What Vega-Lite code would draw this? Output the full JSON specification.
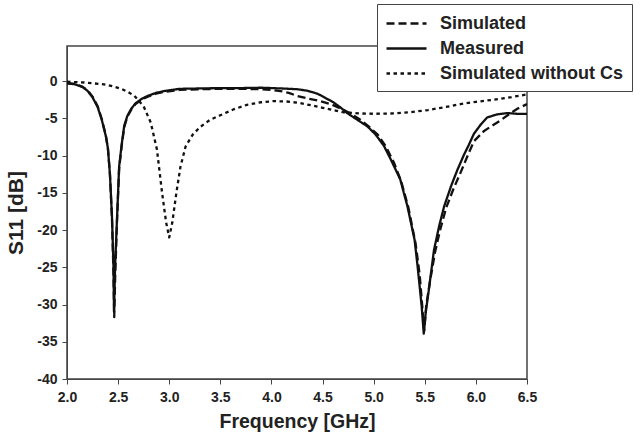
{
  "$schema": "https://vega.github.io/schema/vega-lite/v6.json",
  "width": 460,
  "height": 333,
  "autosize": {"type": "none"},
  "padding": {"left": 67, "top": 46, "right": 117, "bottom": 60},
  "background": "white",
  "config": {
    "font": "Liberation Sans",
    "view": {"stroke": "#444", "strokeWidth": 1.5},
    "axis": {
      "grid": false,
      "domainColor": "#444",
      "tickColor": "#444",
      "tickSize": 5,
      "labelFont": "Liberation Sans",
      "labelFontWeight": "bold",
      "labelFontSize": 14,
      "labelColor": "#222",
      "titleFont": "Liberation Sans",
      "titleFontWeight": "bold",
      "titleColor": "#222"
    }
  },
  "data": {
    "values": [
      {"f": 2.00, "s": -0.3, "series": "Measured"},
      {"f": 2.08, "s": -0.45, "series": "Measured"},
      {"f": 2.15, "s": -0.8, "series": "Measured"},
      {"f": 2.20, "s": -1.3, "series": "Measured"},
      {"f": 2.25, "s": -2.2, "series": "Measured"},
      {"f": 2.30, "s": -3.5, "series": "Measured"},
      {"f": 2.34, "s": -5.2, "series": "Measured"},
      {"f": 2.38, "s": -7.4, "series": "Measured"},
      {"f": 2.40, "s": -9.0, "series": "Measured"},
      {"f": 2.42, "s": -12.5, "series": "Measured"},
      {"f": 2.44, "s": -18.2, "series": "Measured"},
      {"f": 2.455, "s": -25, "series": "Measured"},
      {"f": 2.46, "s": -31.0, "series": "Measured"},
      {"f": 2.47, "s": -25, "series": "Measured"},
      {"f": 2.49, "s": -18.2, "series": "Measured"},
      {"f": 2.51, "s": -11.5, "series": "Measured"},
      {"f": 2.535, "s": -8.5, "series": "Measured"},
      {"f": 2.56, "s": -6.0, "series": "Measured"},
      {"f": 2.59, "s": -4.7, "series": "Measured"},
      {"f": 2.63, "s": -3.7, "series": "Measured"},
      {"f": 2.67, "s": -3.0, "series": "Measured"},
      {"f": 2.73, "s": -2.4, "series": "Measured"},
      {"f": 2.79, "s": -2.0, "series": "Measured"},
      {"f": 2.87, "s": -1.6, "series": "Measured"},
      {"f": 2.95, "s": -1.35, "series": "Measured"},
      {"f": 3.10, "s": -1.05, "series": "Measured"},
      {"f": 3.30, "s": -1.0, "series": "Measured"},
      {"f": 3.50, "s": -0.95, "series": "Measured"},
      {"f": 3.70, "s": -0.95, "series": "Measured"},
      {"f": 3.90, "s": -0.9, "series": "Measured"},
      {"f": 4.10, "s": -1.0, "series": "Measured"},
      {"f": 4.25, "s": -1.1, "series": "Measured"},
      {"f": 4.35, "s": -1.3, "series": "Measured"},
      {"f": 4.45, "s": -1.7, "series": "Measured"},
      {"f": 4.52, "s": -2.2, "series": "Measured"},
      {"f": 4.61, "s": -2.9, "series": "Measured"},
      {"f": 4.68, "s": -3.6, "series": "Measured"},
      {"f": 4.74, "s": -4.3, "series": "Measured"},
      {"f": 4.84, "s": -5.2, "series": "Measured"},
      {"f": 4.94, "s": -6.1, "series": "Measured"},
      {"f": 5.02, "s": -7.2, "series": "Measured"},
      {"f": 5.10, "s": -8.7, "series": "Measured"},
      {"f": 5.17, "s": -10.6, "series": "Measured"},
      {"f": 5.26, "s": -13.2, "series": "Measured"},
      {"f": 5.33, "s": -16.8, "series": "Measured"},
      {"f": 5.40, "s": -21.3, "series": "Measured"},
      {"f": 5.43, "s": -24.9, "series": "Measured"},
      {"f": 5.47, "s": -30.3, "series": "Measured"},
      {"f": 5.49, "s": -33.9, "series": "Measured"},
      {"f": 5.51, "s": -31, "series": "Measured"},
      {"f": 5.54, "s": -28, "series": "Measured"},
      {"f": 5.59, "s": -22.7, "series": "Measured"},
      {"f": 5.64, "s": -19.5, "series": "Measured"},
      {"f": 5.69, "s": -16.8, "series": "Measured"},
      {"f": 5.76, "s": -14.0, "series": "Measured"},
      {"f": 5.82, "s": -11.9, "series": "Measured"},
      {"f": 5.88, "s": -10.0, "series": "Measured"},
      {"f": 5.93, "s": -8.6, "series": "Measured"},
      {"f": 5.98, "s": -7.1, "series": "Measured"},
      {"f": 6.05, "s": -5.8, "series": "Measured"},
      {"f": 6.11, "s": -4.9, "series": "Measured"},
      {"f": 6.20, "s": -4.5, "series": "Measured"},
      {"f": 6.31, "s": -4.3, "series": "Measured"},
      {"f": 6.40, "s": -4.4, "series": "Measured"},
      {"f": 6.50, "s": -4.4, "series": "Measured"},

      {"f": 2.00, "s": -0.3, "series": "Simulated"},
      {"f": 2.08, "s": -0.4, "series": "Simulated"},
      {"f": 2.15, "s": -0.75, "series": "Simulated"},
      {"f": 2.20, "s": -1.2, "series": "Simulated"},
      {"f": 2.25, "s": -2.1, "series": "Simulated"},
      {"f": 2.30, "s": -3.4, "series": "Simulated"},
      {"f": 2.34, "s": -5.1, "series": "Simulated"},
      {"f": 2.38, "s": -7.3, "series": "Simulated"},
      {"f": 2.40, "s": -9.0, "series": "Simulated"},
      {"f": 2.42, "s": -12.5, "series": "Simulated"},
      {"f": 2.44, "s": -18.5, "series": "Simulated"},
      {"f": 2.455, "s": -26, "series": "Simulated"},
      {"f": 2.462, "s": -31.7, "series": "Simulated"},
      {"f": 2.472, "s": -26, "series": "Simulated"},
      {"f": 2.49, "s": -18.5, "series": "Simulated"},
      {"f": 2.51, "s": -11.8, "series": "Simulated"},
      {"f": 2.535, "s": -8.7, "series": "Simulated"},
      {"f": 2.56, "s": -6.2, "series": "Simulated"},
      {"f": 2.59, "s": -4.8, "series": "Simulated"},
      {"f": 2.63, "s": -3.8, "series": "Simulated"},
      {"f": 2.67, "s": -3.1, "series": "Simulated"},
      {"f": 2.73, "s": -2.5, "series": "Simulated"},
      {"f": 2.79, "s": -2.1, "series": "Simulated"},
      {"f": 2.87, "s": -1.7, "series": "Simulated"},
      {"f": 2.95, "s": -1.45, "series": "Simulated"},
      {"f": 3.10, "s": -1.2, "series": "Simulated"},
      {"f": 3.30, "s": -1.1, "series": "Simulated"},
      {"f": 3.50, "s": -1.05, "series": "Simulated"},
      {"f": 3.70, "s": -1.05, "series": "Simulated"},
      {"f": 3.90, "s": -1.1, "series": "Simulated"},
      {"f": 4.00, "s": -1.2, "series": "Simulated"},
      {"f": 4.09, "s": -1.35, "series": "Simulated"},
      {"f": 4.17, "s": -1.6, "series": "Simulated"},
      {"f": 4.25, "s": -2.0, "series": "Simulated"},
      {"f": 4.37, "s": -2.4, "series": "Simulated"},
      {"f": 4.48, "s": -2.7, "series": "Simulated"},
      {"f": 4.58, "s": -3.1, "series": "Simulated"},
      {"f": 4.68, "s": -3.7, "series": "Simulated"},
      {"f": 4.78, "s": -4.4, "series": "Simulated"},
      {"f": 4.87, "s": -5.2, "series": "Simulated"},
      {"f": 4.96, "s": -6.2, "series": "Simulated"},
      {"f": 5.04, "s": -7.2, "series": "Simulated"},
      {"f": 5.12, "s": -8.8, "series": "Simulated"},
      {"f": 5.20, "s": -11.0, "series": "Simulated"},
      {"f": 5.27, "s": -13.5, "series": "Simulated"},
      {"f": 5.34, "s": -17.0, "series": "Simulated"},
      {"f": 5.41, "s": -21.8, "series": "Simulated"},
      {"f": 5.45, "s": -26, "series": "Simulated"},
      {"f": 5.48, "s": -31, "series": "Simulated"},
      {"f": 5.495, "s": -33.5, "series": "Simulated"},
      {"f": 5.515, "s": -30, "series": "Simulated"},
      {"f": 5.55, "s": -27, "series": "Simulated"},
      {"f": 5.60, "s": -23, "series": "Simulated"},
      {"f": 5.65, "s": -20, "series": "Simulated"},
      {"f": 5.71, "s": -17, "series": "Simulated"},
      {"f": 5.78, "s": -14.5, "series": "Simulated"},
      {"f": 5.85, "s": -12.3, "series": "Simulated"},
      {"f": 5.92, "s": -10.0, "series": "Simulated"},
      {"f": 5.98, "s": -8.1, "series": "Simulated"},
      {"f": 6.08, "s": -6.7, "series": "Simulated"},
      {"f": 6.17, "s": -5.9, "series": "Simulated"},
      {"f": 6.25, "s": -5.2, "series": "Simulated"},
      {"f": 6.33, "s": -4.4, "series": "Simulated"},
      {"f": 6.41, "s": -3.7, "series": "Simulated"},
      {"f": 6.50, "s": -3.1, "series": "Simulated"},

      {"f": 2.00, "s": -0.1, "series": "Simulated without Cs"},
      {"f": 2.17, "s": -0.2, "series": "Simulated without Cs"},
      {"f": 2.36, "s": -0.45, "series": "Simulated without Cs"},
      {"f": 2.45, "s": -0.7, "series": "Simulated without Cs"},
      {"f": 2.54, "s": -1.1, "series": "Simulated without Cs"},
      {"f": 2.60, "s": -1.5, "series": "Simulated without Cs"},
      {"f": 2.66, "s": -2.0, "series": "Simulated without Cs"},
      {"f": 2.75, "s": -3.4, "series": "Simulated without Cs"},
      {"f": 2.82, "s": -5.6, "series": "Simulated without Cs"},
      {"f": 2.88, "s": -9.2, "series": "Simulated without Cs"},
      {"f": 2.93, "s": -15.0, "series": "Simulated without Cs"},
      {"f": 2.97, "s": -19.0, "series": "Simulated without Cs"},
      {"f": 3.00, "s": -21.0, "series": "Simulated without Cs"},
      {"f": 3.03, "s": -19.0, "series": "Simulated without Cs"},
      {"f": 3.07, "s": -15.0, "series": "Simulated without Cs"},
      {"f": 3.11, "s": -11.5, "series": "Simulated without Cs"},
      {"f": 3.16, "s": -8.8, "series": "Simulated without Cs"},
      {"f": 3.23, "s": -7.2, "series": "Simulated without Cs"},
      {"f": 3.30, "s": -6.2, "series": "Simulated without Cs"},
      {"f": 3.40, "s": -5.2, "series": "Simulated without Cs"},
      {"f": 3.50, "s": -4.6, "series": "Simulated without Cs"},
      {"f": 3.63, "s": -3.8, "series": "Simulated without Cs"},
      {"f": 3.76, "s": -3.2, "series": "Simulated without Cs"},
      {"f": 3.90, "s": -2.85, "series": "Simulated without Cs"},
      {"f": 4.02, "s": -2.7, "series": "Simulated without Cs"},
      {"f": 4.15, "s": -2.75, "series": "Simulated without Cs"},
      {"f": 4.28, "s": -2.95, "series": "Simulated without Cs"},
      {"f": 4.40, "s": -3.3, "series": "Simulated without Cs"},
      {"f": 4.50, "s": -3.6, "series": "Simulated without Cs"},
      {"f": 4.60, "s": -3.9, "series": "Simulated without Cs"},
      {"f": 4.71, "s": -4.2, "series": "Simulated without Cs"},
      {"f": 4.85, "s": -4.35, "series": "Simulated without Cs"},
      {"f": 5.00, "s": -4.4, "series": "Simulated without Cs"},
      {"f": 5.20, "s": -4.35, "series": "Simulated without Cs"},
      {"f": 5.35, "s": -4.2, "series": "Simulated without Cs"},
      {"f": 5.53, "s": -3.9, "series": "Simulated without Cs"},
      {"f": 5.70, "s": -3.5, "series": "Simulated without Cs"},
      {"f": 5.85, "s": -3.1, "series": "Simulated without Cs"},
      {"f": 6.00, "s": -2.8, "series": "Simulated without Cs"},
      {"f": 6.18, "s": -2.5, "series": "Simulated without Cs"},
      {"f": 6.35, "s": -2.15, "series": "Simulated without Cs"},
      {"f": 6.50, "s": -1.8, "series": "Simulated without Cs"}
    ]
  },
  "mark": {"type": "line", "color": "#111", "strokeCap": "butt", "strokeJoin": "round", "clip": true},
  "encoding": {
    "x": {
      "field": "f", "type": "quantitative",
      "scale": {"domain": [2, 6.5], "nice": false, "zero": false},
      "axis": {"values": [2, 2.5, 3, 3.5, 4, 4.5, 5, 5.5, 6, 6.5], "format": ".1f", "labelFlush": false, "title": "Frequency [GHz]", "titleFontSize": 19.5, "labelPadding": 6, "titlePadding": 8}
    },
    "y": {
      "field": "s", "type": "quantitative",
      "scale": {"domain": [-40, 4.7], "nice": false, "zero": false},
      "axis": {"values": [-40, -35, -30, -25, -20, -15, -10, -5, 0], "labelExpr": "toString(datum.value)", "labelFlush": false, "title": "S11 [dB]", "titleFontSize": 21, "labelPadding": 5, "titlePadding": 10}
    },
    "strokeDash": {
      "field": "series", "type": "nominal",
      "scale": {"domain": ["Simulated", "Measured", "Simulated without Cs"], "range": [[8, 4], [1, 0], [3.5, 3.5]]},
      "legend": {
        "title": null,
        "orient": "none",
        "legendX": 310,
        "legendY": -42,
        "symbolType": "M-1,0H3",
        "symbolSize": 400,
        "symbolStrokeWidth": 2.5,
        "symbolStrokeColor": "#111",
        "symbolFillColor": "transparent",
        "labelFont": "Liberation Sans",
        "labelFontWeight": "bold",
        "labelFontSize": 18,
        "labelLimit": 400,
        "labelColor": "#222",
        "labelOffset": 32,
        "rowPadding": 4,
        "strokeColor": "#444",
        "fillColor": "white",
        "padding": 8
      }
    },
    "strokeWidth": {
      "field": "series", "type": "nominal",
      "scale": {"domain": ["Simulated", "Measured", "Simulated without Cs"], "range": [2.3, 2.3, 3.5]},
      "legend": null
    }
  }
}
